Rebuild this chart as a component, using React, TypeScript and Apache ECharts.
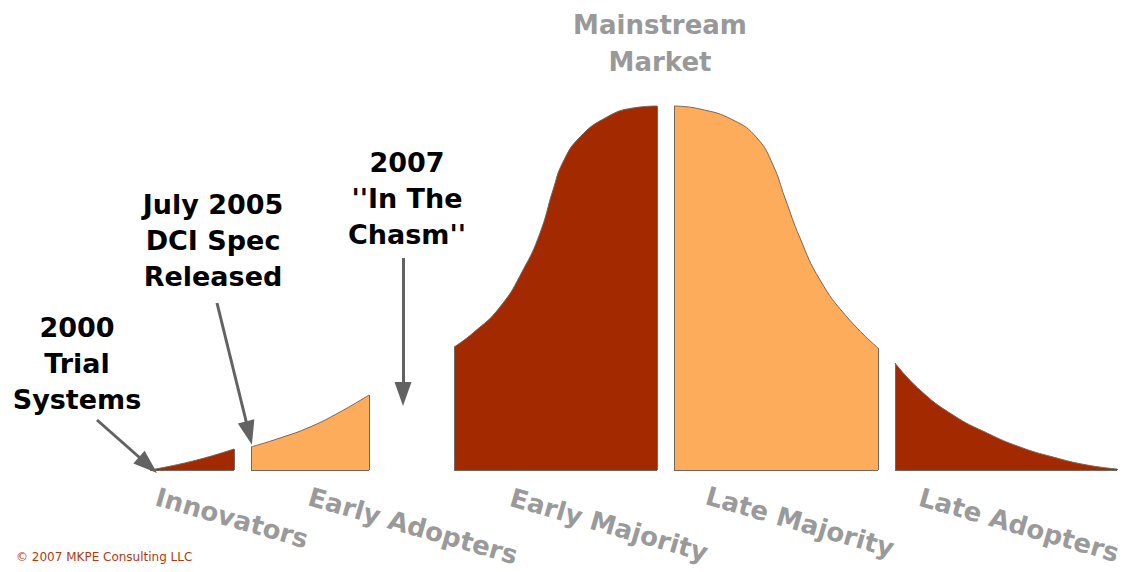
import React, { useEffect, useRef } from "react";
import * as echarts from "echarts";

// Adoption curve segments: [position, adoption level]
const segmentNames = ["Innovators", "Early Adopters", "Early Majority", "Late Majority", "Late Adopters"];
const innovators: [number, number][] = [[150, 0], [193, 9], [234, 21]];
const earlyAdopters: [number, number][] = [[251, 23], [280, 32], [310, 43], [340, 58], [369, 75]];
const earlyMajority: [number, number][] = [
  [454, 123], [473, 137], [500, 163], [523, 200], [540, 237], [553, 280], [563, 308],
  [580, 333], [607, 353], [633, 362], [657, 364],
];
const lateMajority: [number, number][] = [
  [674, 364], [700, 361], [733, 350], [757, 332], [773, 305], [785, 272], [800, 232],
  [820, 190], [847, 153], [878, 122],
];
const lateAdopters: [number, number][] = [
  [895, 107], [920, 80], [953, 55], [987, 37], [1020, 23], [1053, 13], [1087, 5], [1117, 1],
];
const segments = [innovators, earlyAdopters, earlyMajority, lateMajority, lateAdopters];
const segmentColors = ["#A32A00", "#FDAC5C", "#A32A00", "#FDAC5C", "#A32A00"];

// Milestone arrows: [from, to]
const milestoneArrows: [[number, number], [number, number]][] = [
  [[97, 50], [148, 5]],
  [[217, 167], [249, 37]],
  [[403, 212], [403, 76]],
];
const milestoneTexts = ["2000\nTrial\nSystems", "July 2005\nDCI Spec\nReleased", "2007\n''In The\nChasm''"];
const headline = "Mainstream\nMarket";
const copyright = "© 2007 MKPE Consulting LLC";

export default function App() {
  const ref = useRef<HTMLDivElement>(null);
  useEffect(() => {
    if (!ref.current) return;
    const chart = echarts.init(ref.current, undefined, { renderer: "svg" });
    const outline = "#74665a";
    const series: any[] = segments.map((seg, i) => {
      const first = seg[0];
      const last = seg[seg.length - 1];
      return {
        type: "line",
        name: segmentNames[i],
        data: seg,
        smooth: 0.5,
        showSymbol: false,
        silent: true,
        lineStyle: { color: outline, width: 1 },
        areaStyle: { color: segmentColors[i], opacity: 1 },
        markLine: {
          silent: true,
          symbol: "none",
          label: { show: false },
          lineStyle: { color: outline, width: 1, type: "solid" },
          data: [
            [{ coord: [first[0], 0] }, { coord: [first[0], first[1]] }],
            [{ coord: [last[0], 0] }, { coord: [last[0], last[1]] }],
            [{ coord: [first[0], 0] }, { coord: [last[0], 0] }],
          ],
        },
      };
    });
    series.push({
      type: "line",
      name: "milestones",
      data: [],
      silent: true,
      markLine: {
        silent: true,
        symbol: ["none", "triangle"],
        symbolSize: [17, 24],
        label: { show: false },
        lineStyle: { color: "#626262", width: 3, type: "solid" },
        data: milestoneArrows.map(([a, b]) => [{ coord: a }, { coord: b }]),
      },
    });

    const labelFont = { fontFamily: "DejaVu Sans", fontWeight: "bold" as const };
    const catPos = [[232, 518], [413, 526], [609, 525], [800, 522], [1019, 525]];
    const milestonePos = [[77, 363], [213, 240], [407, 198]];
    const graphic: any[] = [
      {
        type: "text",
        x: 660,
        y: 43,
        style: {
          text: headline,
          ...labelFont,
          fontSize: 26,
          lineHeight: 37,
          fill: "#999999",
          align: "center",
          verticalAlign: "middle",
        },
      },
      ...milestoneTexts.map((t, i) => ({
        type: "text",
        x: milestonePos[i][0],
        y: milestonePos[i][1],
        style: {
          text: t,
          ...labelFont,
          fontSize: 27,
          lineHeight: 36,
          fill: "#000000",
          align: "center",
          verticalAlign: "middle",
        },
      })),
      ...segmentNames.map((n, i) => ({
        type: "text",
        x: catPos[i][0],
        y: catPos[i][1],
        rotation: (-16 * Math.PI) / 180,
        style: {
          text: n,
          ...labelFont,
          fontSize: 26,
          fill: "#9a9a9a",
          align: "center",
          verticalAlign: "middle",
        },
      })),
      {
        type: "text",
        x: 16,
        y: 557,
        style: {
          text: copyright,
          fontFamily: "DejaVu Sans",
          fontSize: 12,
          fill: "#B03A10",
          align: "left",
          verticalAlign: "middle",
        },
      },
    ];

    chart.setOption({
      animation: false,
      backgroundColor: "#ffffff",
      grid: { left: 0, right: 0, top: 0, bottom: 102 },
      xAxis: { type: "value", min: 0, max: 1131, show: false },
      yAxis: { type: "value", min: 0, max: 470, show: false },
      series,
      graphic,
    });
    return () => chart.dispose();
  }, []);
  return (
    <div
      ref={ref}
      style={{ position: "absolute", left: 0, top: 0, width: 1131, height: 572 }}
    />
  );
}
